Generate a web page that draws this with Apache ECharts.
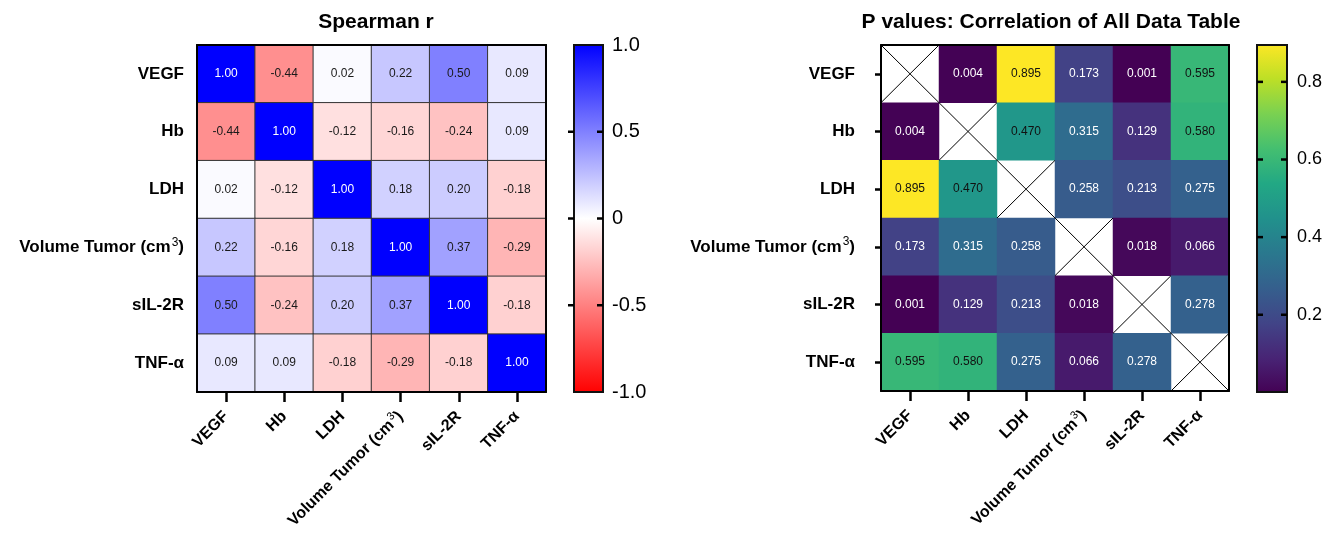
<!DOCTYPE html>
<html>
<head>
<meta charset="utf-8">
<script src="https://cdn.jsdelivr.net/npm/echarts@6/dist/echarts.min.js"></script>
<style>html,body{margin:0;padding:0;background:#fff}#c{width:1338px;height:542px}</style>
</head>
<body>
<div id="c"></div>
<script>
// ---- data ----
const categories = ['VEGF', 'Hb', 'LDH', 'Volume Tumor (cm3)', 'sIL-2R', 'TNF-α'];
const rVEGF  = [1.00, -0.44, 0.02, 0.22, 0.50, 0.09];
const rHb    = [-0.44, 1.00, -0.12, -0.16, -0.24, 0.09];
const rLDH   = [0.02, -0.12, 1.00, 0.18, 0.20, -0.18];
const rVol   = [0.22, -0.16, 0.18, 1.00, 0.37, -0.29];
const rSIL   = [0.50, -0.24, 0.20, 0.37, 1.00, -0.18];
const rTNF   = [0.09, 0.09, -0.18, -0.29, -0.18, 1.00];
const pVEGF  = [null, 0.004, 0.895, 0.173, 0.001, 0.595];
const pHb    = [0.004, null, 0.470, 0.315, 0.129, 0.580];
const pLDH   = [0.895, 0.470, null, 0.258, 0.213, 0.275];
const pVol   = [0.173, 0.315, 0.258, null, 0.018, 0.066];
const pSIL   = [0.001, 0.129, 0.213, 0.018, null, 0.278];
const pTNF   = [0.595, 0.580, 0.275, 0.066, 0.278, null];
const rTicks = [-0.5, 0, 0.5];
const pTicks = [0.2, 0.4, 0.6, 0.8];
const pMin = 0.001, pMax = 0.895;

const rRows = [rVEGF, rHb, rLDH, rVol, rSIL, rTNF];
const pRows = [pVEGF, pHb, pLDH, pVol, pSIL, pTNF];

const FONT = 'Liberation Sans, Arial, Helvetica, sans-serif';
const viridis = ['#440154','#482475','#414487','#355f8d','#2a788e','#21918c','#22a884','#44bf70','#7ad151','#bddf26','#fde725'];

function catLabel(v) {
  if (v.indexOf('cm3') >= 0) return '{b|Volume Tumor (cm}{s|3}{b|)}';
  return '{b|' + v + '}';
}
const rich = (fs) => ({
  b: {fontFamily: FONT, fontWeight: 'bold', fontSize: fs, color: '#000'},
  s: {fontFamily: FONT, fontWeight: 'normal', fontSize: Math.round(fs * 0.68), color: '#000', verticalAlign: 'top', padding: [0, 0, 10, 1]}
});

const rData = [], pData = [], diag = [];
rRows.forEach((row, i) => row.forEach((v, j) => {
  rData.push({value: [j, i, v], label: {color: Math.abs(v) > 0.9 ? '#fff' : '#1a1a1a'}});
}));
pRows.forEach((row, i) => row.forEach((v, j) => {
  if (v === null) { diag.push([j, i]); return; }
  pData.push({value: [j, i, v], label: {color: v > 0.45 ? '#111' : '#fff'}});
}));

const G0 = {left: 197, top: 45, width: 349, height: 347};
const G1 = {left: 574, top: 45, width: 29, height: 347};
const G2 = {left: 881, top: 45, width: 348, height: 346};
const G3 = {left: 1257, top: 45, width: 30, height: 347};

function catX(grid) {
  return {
    type: 'category', gridIndex: grid, data: categories, position: 'bottom', z: 10,
    axisLine: {lineStyle: {color: '#000', width: 2}},
    axisTick: {show: true, alignWithLabel: true, length: 10, lineStyle: {color: '#000', width: 2.5}},
    axisLabel: {rotate: 45, margin: 22, interval: 0, formatter: catLabel, rich: rich(16)},
    splitLine: {show: false}
  };
}
function catY(grid, showTick, margin) {
  return {
    type: 'category', gridIndex: grid, data: categories, inverse: true, position: 'left', z: 10,
    axisLine: {lineStyle: {color: '#000', width: 2}},
    axisTick: {show: showTick, alignWithLabel: true, length: 6, lineStyle: {color: '#000', width: 2.5}},
    axisLabel: {margin: margin, interval: 0, formatter: catLabel, rich: rich(17)},
    splitLine: {show: false}
  };
}
function frameX(grid) {
  return {type: 'category', gridIndex: grid, data: categories, position: 'top', z: 10,
    axisLine: {lineStyle: {color: '#000', width: 2}}, axisTick: {show: false}, axisLabel: {show: false}};
}
function frameY(grid) {
  return {type: 'category', gridIndex: grid, data: categories, inverse: true, position: 'right', z: 10,
    axisLine: {onZero: false, lineStyle: {color: '#000', width: 2}}, axisTick: {show: false}, axisLabel: {show: false}};
}
function hiddenX(grid) {
  return {type: 'value', gridIndex: grid, min: 0, max: 1, show: false};
}

// colour bar: gradient rect + tick marks, all placed through the axis scale
function colorbarItem(min, max, gradStops, ticks, leftOut) {
  return function (params, api) {
    const p0 = api.coord([0, max]);
    const p1 = api.coord([1, min]);
    const children = [{
      type: 'rect',
      shape: {x: p0[0], y: p0[1], width: p1[0] - p0[0], height: p1[1] - p0[1]},
      style: {fill: new echarts.graphic.LinearGradient(0, 0, 0, 1, gradStops), stroke: '#111', lineWidth: 2}
    }];
    ticks.forEach(t => {
      const a = api.coord([0, t]), b = api.coord([1, t]);
      const lx = leftOut ? a[0] - 6 : a[0];
      const lx2 = leftOut ? a[0] : a[0] + 6;
      children.push({type: 'line', shape: {x1: lx, y1: a[1], x2: lx2, y2: a[1]}, style: {stroke: '#000', lineWidth: 2.5}});
      children.push({type: 'line', shape: {x1: b[0] - 6, y1: b[1], x2: b[0], y2: b[1]}, style: {stroke: '#000', lineWidth: 2.5}});
    });
    return {type: 'group', children: children};
  };
}

const rStops = [{offset: 0, color: '#0000ff'}, {offset: 0.5, color: '#ffffff'}, {offset: 1, color: '#ff0000'}];
const pStops = viridis.slice().reverse().map((c, k) => ({offset: k / (viridis.length - 1), color: c}));

const chart = echarts.init(document.getElementById('c'), null, {renderer: 'canvas'});
chart.setOption({
  animation: false,
  backgroundColor: '#fff',
  textStyle: {fontFamily: FONT},
  title: [
    {text: 'Spearman r', left: 371, top: 7, textAlign: 'center',
     textStyle: {fontFamily: FONT, fontWeight: 'bold', fontSize: 21, color: '#000'}},
    {text: 'P values: Correlation of All Data Table', left: 1046, top: 7, textAlign: 'center',
     textStyle: {fontFamily: FONT, fontWeight: 'bold', fontSize: 21, color: '#000'}}
  ],
  grid: [G0, G1, G2, G3],
  xAxis: [catX(0), hiddenX(1), catX(2), hiddenX(3), frameX(0), frameX(2)],
  yAxis: [
    catY(0, false, 13),
    frameY(0),
    {type: 'value', gridIndex: 1, min: -1, max: 1, interval: 0.5, position: 'right',
     axisLine: {show: false}, splitLine: {show: false}, axisTick: {show: false},
     axisLabel: {margin: 9, fontFamily: FONT, fontSize: 20, color: '#000',
                 formatter: v => (v === 0 ? '0' : v.toFixed(1))}},
    catY(2, true, 26),
    frameY(2),
    {type: 'value', gridIndex: 3, min: pMin, max: pMax, position: 'right',
     axisLine: {show: false}, splitLine: {show: false}, axisTick: {show: false},
     axisLabel: {margin: 10, fontFamily: FONT, fontSize: 18, color: '#000', customValues: pTicks,
                 formatter: v => v.toFixed(1)}}
  ],
  visualMap: [
    {type: 'continuous', show: false, seriesIndex: 0, min: -1, max: 1, dimension: 2,
     inRange: {color: ['#ff0000', '#ffffff', '#0000ff']}},
    {type: 'continuous', show: false, seriesIndex: 2, min: pMin, max: pMax, dimension: 2,
     inRange: {color: viridis}}
  ],
  series: [
    {type: 'heatmap', xAxisIndex: 0, yAxisIndex: 0, data: rData,
     itemStyle: {borderColor: '#333', borderWidth: 1},
     label: {show: true, fontFamily: FONT, fontSize: 12, formatter: p => p.value[2].toFixed(2)},
     emphasis: {disabled: true}},
    {type: 'custom', xAxisIndex: 1, yAxisIndex: 2, data: [[0, 0]],
     renderItem: colorbarItem(-1, 1, rStops, rTicks, true), z: 5, silent: true},
    {type: 'heatmap', xAxisIndex: 2, yAxisIndex: 3, data: pData,
     itemStyle: {borderWidth: 0},
     label: {show: true, fontFamily: FONT, fontSize: 12, formatter: p => p.value[2].toFixed(3)},
     emphasis: {disabled: true}},
    {type: 'custom', xAxisIndex: 3, yAxisIndex: 5, data: [[0, 0]],
     renderItem: colorbarItem(pMin, pMax, pStops, pTicks, false), z: 5, silent: true},
    {type: 'custom', xAxisIndex: 2, yAxisIndex: 3, data: diag, z: 4, silent: true,
     renderItem: function (params, api) {
       const c = api.coord([api.value(0), api.value(1)]);
       const s = api.size([1, 1]);
       const x0 = c[0] - s[0] / 2, x1 = c[0] + s[0] / 2;
       const y0 = c[1] - s[1] / 2, y1 = c[1] + s[1] / 2;
       return {type: 'group', children: [
         {type: 'line', shape: {x1: x0, y1: y0, x2: x1, y2: y1}, style: {stroke: '#000', lineWidth: 1}},
         {type: 'line', shape: {x1: x0, y1: y1, x2: x1, y2: y0}, style: {stroke: '#000', lineWidth: 1}}
       ]};
     }}
  ]
});
</script>
</body>
</html>
